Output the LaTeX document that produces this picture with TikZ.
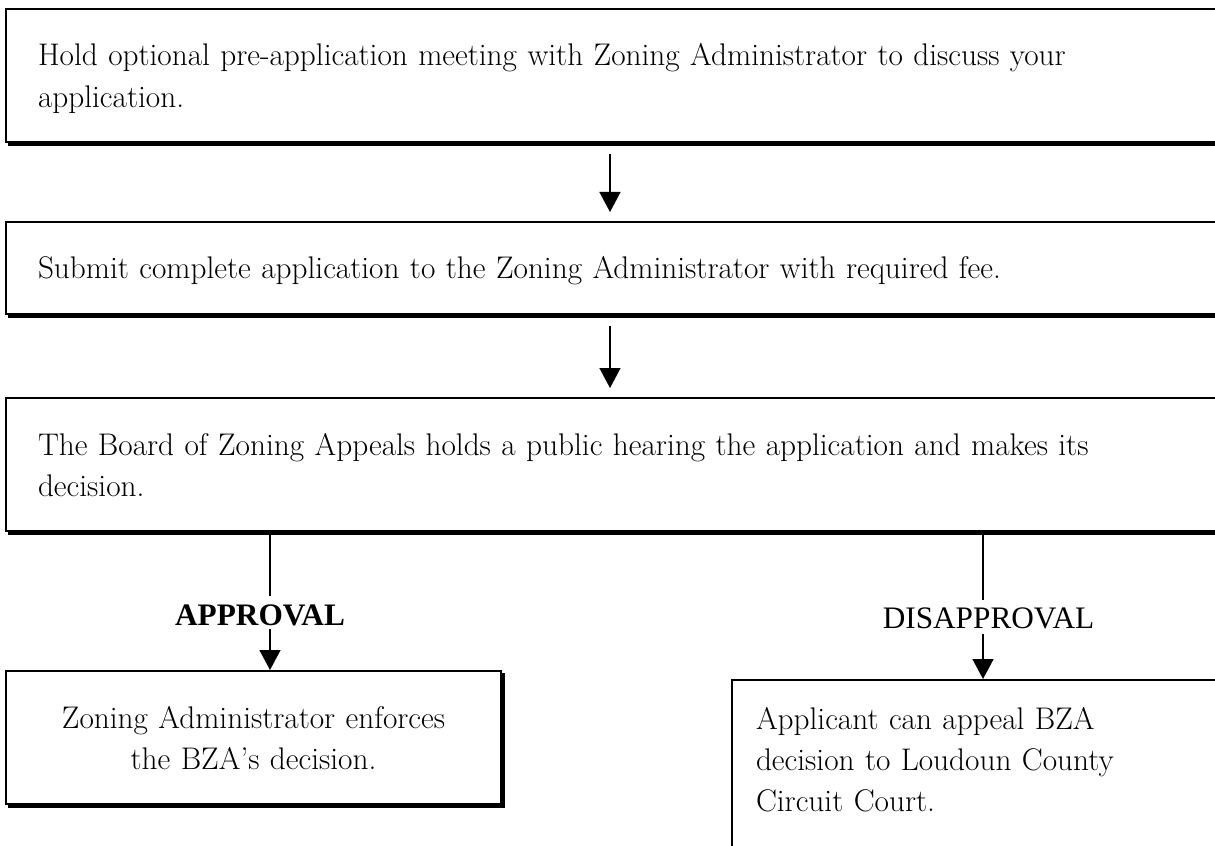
\documentclass[tikz,border=0pt]{standalone}
\usepackage{fontspec}
\newfontfamily\lblfont{Liberation Serif}
\usetikzlibrary{arrows.meta}
\begin{document}
\begin{tikzpicture}[line join=miter,>={Triangle[length=0.40cm,width=0.42cm]},
  stepbox/.style={draw,line width=0.04cm,anchor=north west,inner ysep=0pt,
    font=\fontsize{17.8}{23.5}\selectfont},
  widebox/.style={text width=23.22cm,inner xsep=0.64cm,align=left,text height=1.14cm},
  shadowline/.style={line width=0.07cm},
  link/.style={line width=0.03cm},
  lbl/.style={inner sep=0pt,anchor=base,font={\lblfont\fontsize{17.8}{20}\selectfont}}]
  \useasboundingbox (0,0) rectangle (24.30,-16.92);
  \clip (0,0) rectangle (24.30,-16.92);
  \coordinate (mid) at (12.20,0);
  \coordinate (lx) at (5.40,0);
  \coordinate (rx) at (19.66,0);
  % the three steps
  \node[stepbox,widebox,text depth=1.52cm] (meet) at (0.10,-0.16)
    {Hold optional pre-application meeting with Zoning Administrator to discuss your\\application.};
  \node[stepbox,widebox,text depth=0.70cm] (submit) at (0.10,-4.42)
    {Submit complete application to the Zoning Administrator with required fee.};
  \node[stepbox,widebox,text depth=1.52cm] (hear) at (0.10,-7.94)
    {The Board of Zoning Appeals holds a public hearing the application and makes its\\decision.};
  % outcomes
  \node[stepbox,text width=8.62cm,inner xsep=0.64cm,align=center,text height=1.14cm,text depth=1.52cm] (enforce) at (0.10,-13.40)
    {Zoning Administrator enforces\\the BZA’s decision.};
  \node[stepbox,text width=9.22cm,inner xsep=0.48cm,align=left,text height=0.98cm,text depth=5cm] (appeal) at (14.62,-13.58)
    {Applicant can appeal BZA\\decision to Loudoun County\\Circuit Court.};
  \node[lbl] (appr) at (5.20,-12.50) {\bfseries APPROVAL};
  \node[lbl] (disappr) at (19.77,-12.56) {DISAPPROVAL};
  % shadow edges
  \foreach \b in {meet,submit,hear,enforce,appeal}
    \draw[shadowline] ([shift={(0.06,-0.025)}]\b.south west) -- ([shift={(0.025,-0.025)}]\b.south east)
      -- ([shift={(0.025,-0.06)}]\b.north east);
  % connectors
  \draw[link,->,shorten <=0.22cm,shorten >=0.18cm] (meet.south -| mid) -- (submit.north -| mid);
  \draw[link,->,shorten <=0.22cm,shorten >=0.18cm] (submit.south -| mid) -- (hear.north -| mid);
  \draw[link,shorten >=0.16cm] (hear.south -| lx) -- (appr.north -| lx);
  \draw[link,->,shorten <=0.06cm] (appr.south -| lx) -- (enforce.north -| lx);
  \draw[link,shorten >=0.14cm] (hear.south -| rx) -- (disappr.north -| rx);
  \draw[link,->,shorten <=0.10cm] (disappr.south -| rx) -- (appeal.north -| rx);
\end{tikzpicture}
\end{document}
